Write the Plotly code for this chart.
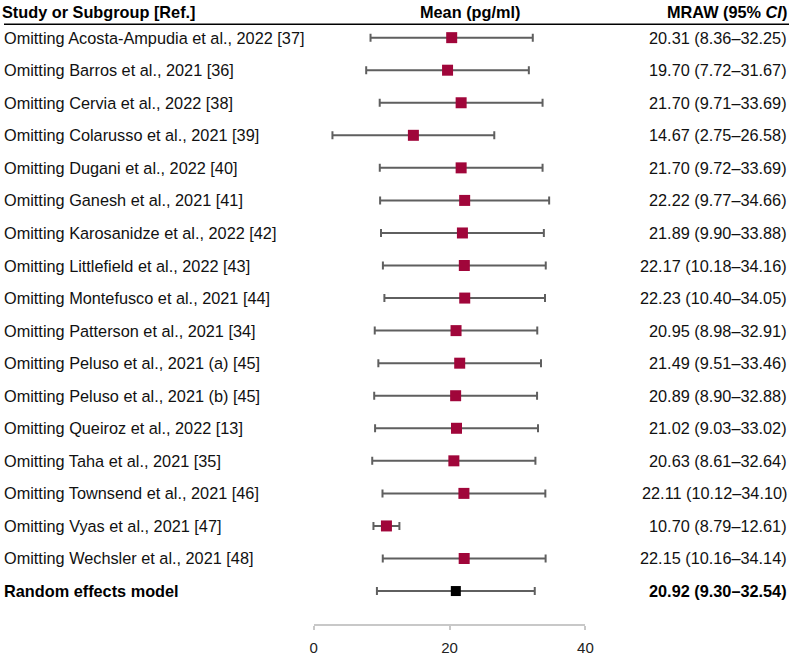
import plotly.graph_objects as go

studies = [
    "Omitting Acosta-Ampudia et al., 2022 [37]",
    "Omitting Barros et al., 2021 [36]",
    "Omitting Cervia et al., 2022 [38]",
    "Omitting Colarusso et al., 2021 [39]",
    "Omitting Dugani et al., 2022 [40]",
    "Omitting Ganesh et al., 2021 [41]",
    "Omitting Karosanidze et al., 2022 [42]",
    "Omitting Littlefield et al., 2022 [43]",
    "Omitting Montefusco et al., 2021 [44]",
    "Omitting Patterson et al., 2021 [34]",
    "Omitting Peluso et al., 2021 (a) [45]",
    "Omitting Peluso et al., 2021 (b) [45]",
    "Omitting Queiroz et al., 2022 [13]",
    "Omitting Taha et al., 2021 [35]",
    "Omitting Townsend et al., 2021 [46]",
    "Omitting Vyas et al., 2021 [47]",
    "Omitting Wechsler et al., 2021 [48]",
]
means = [20.31, 19.70, 21.70, 14.67, 21.70, 22.22, 21.89, 22.17, 22.23, 20.95,
         21.49, 20.89, 21.02, 20.63, 22.11, 10.70, 22.15]
lows = [8.36, 7.72, 9.71, 2.75, 9.72, 9.77, 9.90, 10.18, 10.40, 8.98,
        9.51, 8.90, 9.03, 8.61, 10.12, 8.79, 10.16]
highs = [32.25, 31.67, 33.69, 26.58, 33.69, 34.66, 33.88, 34.16, 34.05, 32.91,
         33.46, 32.88, 33.02, 32.64, 34.10, 12.61, 34.14]

pooled_label = "Random effects model"
pooled_mean = 20.92
pooled_low = 9.30
pooled_high = 32.54

x_ticks = [0, 20, 40]

W, H = 797, 656
FONT = "Liberation Sans, Arial, sans-serif"
FS = 16.3
RED = "#A0063A"
GRAY = "#5f5f5f"

rows = list(range(len(studies)))
pooled_row = len(studies)

fig = go.Figure()

fig.add_trace(go.Scatter(
    x=means, y=rows, mode="markers",
    marker=dict(symbol="square", size=11, color=RED),
    error_x=dict(type="data", symmetric=False,
                 array=[h - m for h, m in zip(highs, means)],
                 arrayminus=[m - l for m, l in zip(means, lows)],
                 color=GRAY, thickness=2, width=4),
    cliponaxis=False, showlegend=False, hoverinfo="skip"))

fig.add_trace(go.Scatter(
    x=[pooled_mean], y=[pooled_row], mode="markers",
    marker=dict(symbol="square", size=10, color="black"),
    error_x=dict(type="data", symmetric=False,
                 array=[pooled_high - pooled_mean],
                 arrayminus=[pooled_mean - pooled_low],
                 color=GRAY, thickness=2, width=4),
    cliponaxis=False, showlegend=False, hoverinfo="skip"))

ann = []
for i, s in enumerate(studies):
    ann.append(dict(x=-2 / W, xref="paper", y=i, yref="y", text=s, showarrow=False,
                    xanchor="left", yanchor="middle",
                    font=dict(family=FONT, size=FS, color="#111111")))
    ann.append(dict(x=1.0, xref="paper", y=i, yref="y",
                    text=f"{means[i]:.2f} ({lows[i]:.2f}\u2013{highs[i]:.2f})",
                    showarrow=False, xanchor="right", yanchor="middle",
                    font=dict(family=FONT, size=FS, color="#111111")))
ann.append(dict(x=-2 / W, xref="paper", y=pooled_row, yref="y", text="<b>" + pooled_label + "</b>",
                showarrow=False, xanchor="left", yanchor="middle",
                font=dict(family=FONT, size=FS, color="#000000")))
ann.append(dict(x=1.0, xref="paper", y=pooled_row, yref="y",
                text=f"<b>{pooled_mean:.2f} ({pooled_low:.2f}\u2013{pooled_high:.2f})</b>",
                showarrow=False, xanchor="right", yanchor="middle",
                font=dict(family=FONT, size=FS, color="#000000")))

hy = (H - 12) / H
ann.append(dict(x=-4 / W, xref="paper", y=hy, yref="paper", text="<b>Study or Subgroup [Ref.]</b>",
                showarrow=False, xanchor="left", yanchor="middle",
                font=dict(family=FONT, size=FS, color="#000000")))
ann.append(dict(x=473 / W, xref="paper", y=hy, yref="paper", text="<b>Mean (pg/ml)</b>",
                showarrow=False, xanchor="center", yanchor="middle",
                font=dict(family=FONT, size=FS, color="#000000")))
ann.append(dict(x=1.0, xref="paper", y=hy, yref="paper", text="<b>MRAW (95% <i>CI</i>)</b>",
                showarrow=False, xanchor="right", yanchor="middle",
                font=dict(family=FONT, size=FS, color="#000000")))

# y mapping: row 0 at 38 px, pooled row near 596 px, plot area top 0 to 630 px
axis_px = 630
spacing = (596.5 - 38) / 17
r_top = -38 / spacing
r_bot = r_top + axis_px / spacing

fig.update_layout(
    width=W, height=H, autosize=False,
    margin=dict(l=0, r=0, t=0, b=0),
    plot_bgcolor="white", paper_bgcolor="white",
    xaxis=dict(domain=[314.5 / W, 590.3 / W], range=[0, 40],
               tickvals=x_ticks, ticktext=[str(t) for t in x_ticks],
               showgrid=False, zeroline=False,
               showline=True, linecolor="#c8c8c8", linewidth=2,
               ticks="outside", ticklen=4, tickwidth=2, tickcolor="#c8c8c8",
               ticklabelstandoff=5,
               tickfont=dict(family=FONT, size=15, color="#222222")),
    yaxis=dict(domain=[(H - axis_px) / H, 1], range=[r_bot, r_top],
               showgrid=False, zeroline=False, showline=False,
               showticklabels=False, ticks=""),
    annotations=ann,
    shapes=[dict(type="line", xref="paper", yref="paper", x0=0, x1=1,
                 y0=(H - 24.5) / H, y1=(H - 24.5) / H,
                 line=dict(color="black", width=1.5))],
)

post = (
    "document.documentElement.style.margin='0';"
    "document.documentElement.style.overflow='hidden';"
    "document.body.style.margin='0';"
    "document.body.style.overflow='hidden';"
)

fig.write_html("out.html",
               config={"displayModeBar": False},
               post_script=post)
